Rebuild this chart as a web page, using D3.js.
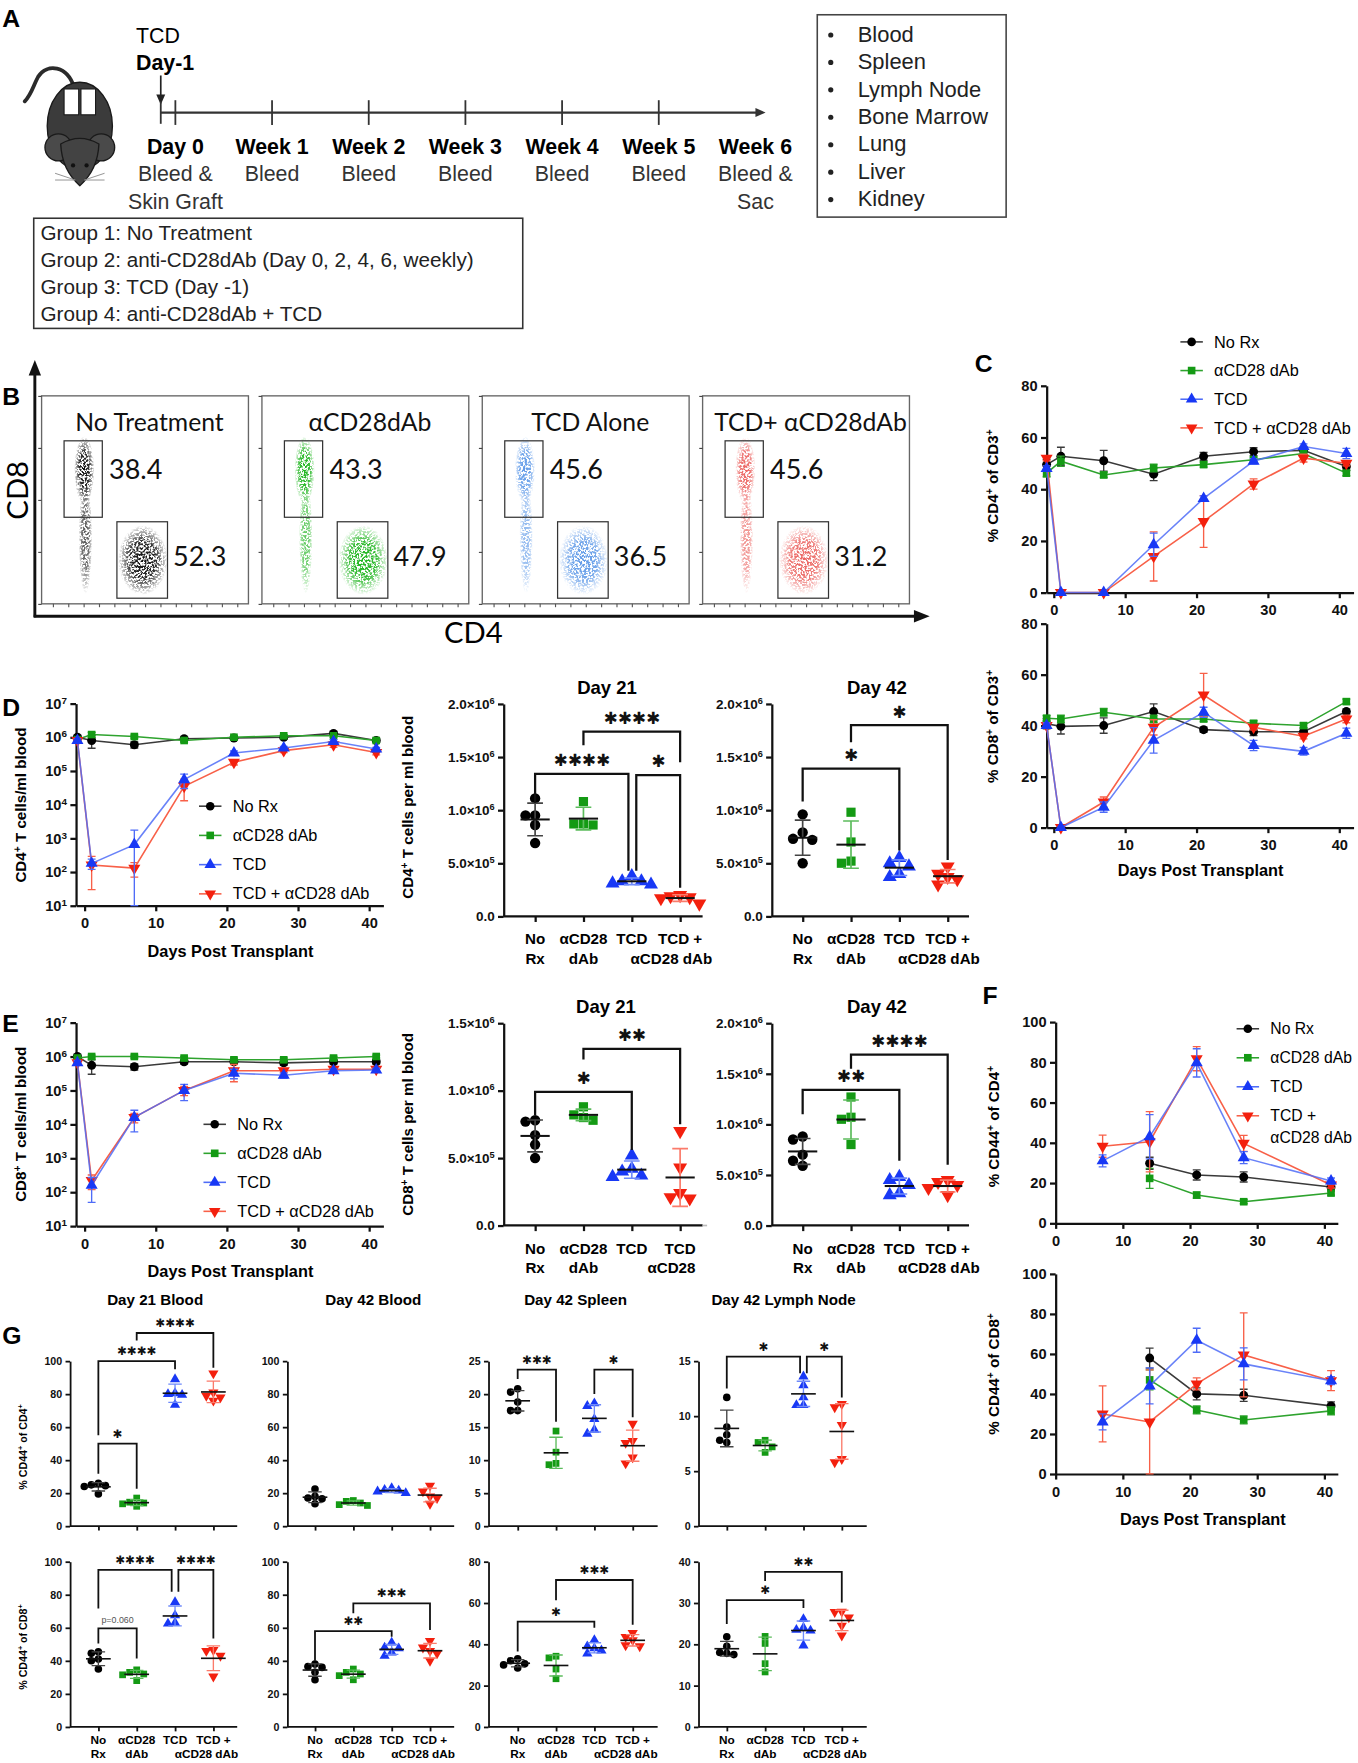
<!DOCTYPE html>
<html>
<head>
<meta charset="utf-8">
<script src="https://cdn.jsdelivr.net/npm/d3@7"></script>
<style>
  body { margin: 0; background: #fff; }
  svg { display: block; }
</style>
</head>
<body>
<div id="chart"></div>
<script>
// ---- data ----
const groups = ["No Rx", "αCD28 dAb", "TCD", "TCD + αCD28 dAb"];
const markFill = ["#000000", "#149a14", "#1838f5", "#f3200e"];
const lineCol = ["#3a3a3a", "#2ea32e", "#4f6cf7", "#f86048"];
const sdCol = ["#444444", "#5cbc5c", "#6f8afa", "#fb7b6b"];

const weekLabels = ["Day 0", "Week 1", "Week 2", "Week 3", "Week 4", "Week 5", "Week 6"];
const weekAction = ["Bleed &", "Bleed", "Bleed", "Bleed", "Bleed", "Bleed", "Bleed &"];
const weekAction2 = ["Skin Graft", "", "", "", "", "", "Sac"];
const groupLines = ["Group 1: No Treatment", "Group 2: anti-CD28dAb (Day 0, 2, 4, 6, weekly)", "Group 3: TCD (Day -1)", "Group 4: anti-CD28dAb + TCD"];
const organs = ["Blood", "Spleen", "Lymph Node", "Bone Marrow", "Lung", "Liver", "Kidney"];

const flowTitles = ["No Treatment", "αCD28dAb", "TCD Alone", "TCD+ αCD28dAb"];
const flowCd8 = [38.4, 43.3, 45.6, 45.6];
const flowCd4 = [52.3, 47.9, 36.5, 31.2];
const flowColors = ["#111111", "#12b012", "#2a78e0", "#e3231f"];

const timeDays = [-1, 1, 7, 14, 21, 28, 35, 41];
const cCd4Vals = [
  [49.5, 52.7, 51, 45.8, 52.7, 54.5, 55, 48.8],
  [46.2, 50.8, 45.5, 48.2, 49.5, 51.4, 53.8, 46.2],
  [48, 0, 0, 18.5, 36.4, 50.8, 56.5, 53.8],
  [52, 0, 0, 14, 27.5, 42, 52, 50]
];
const cCd4Sd = [
  [2, 3.5, 4, 2.5, 1.5, 1.5, 1.5, 1.5],
  [1.5, 2, 1, 1.5, 1, 1, 1, 1],
  [1, 0, 0, 4.5, 1, 1, 1, 2],
  [1, 0, 0, 9.5, 10, 2, 1.5, 1]
];
const cCd8Vals = [
  [40.7, 39.7, 40, 45.5, 38.4, 37.6, 37.6, 45.5],
  [42.9, 42.6, 45.2, 42.6, 42.6, 40.9, 40, 49.4],
  [40, 0, 8, 34.2, 45.2, 32.2, 29.9, 37],
  [40, 0, 10, 39.3, 52, 39.3, 35.8, 42.6]
];
const cCd8Sd = [
  [2, 3, 3, 3, 1, 1.5, 1.5, 1],
  [1, 1.5, 1.5, 1.5, 1, 1, 1, 1],
  [1, 0, 2, 5, 2, 2, 1.5, 2],
  [1, 0, 2, 3, 8.5, 1, 1, 1.5]
];
const dCd4Counts = [
  [1.0e6, 8.0e5, 6.0e5, 9.0e5, 9.5e5, 1.0e6, 1.3e6, 8.0e5],
  [8.5e5, 1.2e6, 1.05e6, 8.0e5, 1.0e6, 1.1e6, 1.1e6, 8.0e5],
  [8.0e5, 1.8e2, 6.5e2, 5.5e4, 3.4e5, 4.8e5, 7.5e5, 4.5e5],
  [8.0e5, 1.6e2, 1.3e2, 3.5e4, 1.8e5, 4.0e5, 6.0e5, 3.5e5]
];
const dCd4Sd = [
  [1.5e5, 3.3e5, 1.2e5, 1.2e5, 1e5, 1e5, 1.5e5, 1e5],
  [1e5, 2e5, 1e5, 1e5, 1e5, 1e5, 1e5, 1e5],
  [1e5, 60, 1.1e3, 2.5e4, 5e4, 5e4, 1e5, 5e4],
  [1e5, 130, 60, 2.2e4, 3e4, 5e4, 1e5, 5e4]
];
const eCd8Counts = [
  [1.0e6, 5.5e5, 5.0e5, 7.0e5, 7.0e5, 6.5e5, 7.0e5, 7.0e5],
  [9.0e5, 1.0e6, 1.0e6, 9.0e5, 8.0e5, 8.0e5, 9.0e5, 1.0e6],
  [6.5e5, 1.6e2, 1.6e4, 1.0e5, 3.2e5, 2.8e5, 3.8e5, 4.0e5],
  [6.5e5, 2.2e2, 1.6e4, 1.0e5, 3.8e5, 3.8e5, 4.2e5, 4.2e5]
];
const eCd8Sd = [
  [1e5, 2.5e5, 1e5, 1e5, 1e5, 1e5, 1e5, 1e5],
  [1e5, 1e5, 1e5, 1e5, 1e5, 1e5, 1e5, 1e5],
  [1e5, 110, 1e4, 5e4, 1e5, 5e4, 5e4, 5e4],
  [1e5, 100, 5e3, 3e4, 2e5, 5e4, 5e4, 5e4]
];
const fDays = [7, 14, 21, 28, 41];
const fCd4Vals = [
  [null, 29.8, 24, 23, 18],
  [null, 22.3, 14, 10.7, 15],
  [31, 43, 79.7, 32.6, 21],
  [38.3, 40.5, 81.8, 39.7, 19]
];
const fCd4Sd = [
  [0, 3, 2.5, 2.5, 1.5],
  [0, 5, 1.5, 1, 1],
  [3, 11, 7, 3, 1.5],
  [5.5, 15, 6, 4, 1.5]
];
const fCd8Vals = [
  [null, 57.9, 40, 39.3, 34],
  [null, 47, 32, 27, 31.5],
  [26, 44, 66.8, 55, 46.6],
  [30, 26, 45, 59.5, 46.6]
];
const fCd8Sd = [
  [0, 5, 3, 3, 2],
  [0, 5, 2, 2, 2],
  [4, 9, 6, 8, 2],
  [14, 26, 3, 21, 5]
];

// per-animal values (x10^6 cells / ml)
const d21Cd4 = [[1.11, 0.95, 0.95, 0.86, 0.69], [1.08, 0.87, 0.87, 0.86], [0.38, 0.33, 0.33, 0.31, 0.30], [0.20, 0.19, 0.18, 0.17, 0.12]];
const d42Cd4 = [[0.96, 0.79, 0.73, 0.72, 0.5], [0.98, 0.7, 0.52, 0.5], [0.55, 0.5, 0.47, 0.4, 0.37], [0.47, 0.4, 0.37, 0.35, 0.3]];
const e21Cd8 = [[0.78, 0.77, 0.67, 0.6, 0.5], [0.88, 0.82, 0.8, 0.78], [0.52, 0.42, 0.4, 0.37, 0.36], [0.7, 0.43, 0.24, 0.21, 0.2]];
const e42Cd8 = [[0.88, 0.85, 0.7, 0.64, 0.59], [1.27, 1.07, 1.05, 0.8], [0.48, 0.45, 0.4, 0.32, 0.3], [0.45, 0.43, 0.4, 0.37, 0.3]];

// % CD44+
const g21BloodCd4 = [[26, 25, 24.5, 24, 19.5], [17, 14.5, 14, 13.5, 12], [89, 80.5, 80, 79.5, 73.5], [92.5, 81, 79, 78, 76]];
const g42BloodCd4 = [[22.5, 18, 17, 16.5, 13.5], [15.5, 15, 14, 13, 12.5], [23, 22, 21.5, 21, 20], [24.5, 21, 18, 17, 13.5]];
const g42SpleenCd4 = [[20.8, 20.3, 18.8, 17.5, 17.5], [14.4, 11.2, 9.5, 9.3], [18.6, 18.2, 16.2, 14.6, 14], [15.5, 12.9, 12.6, 10.4, 9.5]];
const g42LnCd4 = [[11.7, 9.0, 8.3, 7.8, 7.6], [7.8, 7.6, 7.2, 6.7], [13.6, 12.8, 11.7, 11, 11], [11.1, 10.8, 9.2, 6.1, 5.8]];
const g21BloodCd8 = [[45.5, 44.5, 41, 40, 35], [34.5, 33, 32, 31.5, 28], [75.5, 67.5, 63, 62.5], [46.5, 46, 43, 30.5]];
const g42BloodCd8 = [[38, 36.5, 36, 33, 28.5], [35, 33, 32, 31, 28.5], [51, 48, 47.5, 45, 43], [52, 48, 46, 44.5, 40]];
const g42SpleenCd8 = [[33, 32, 30.5, 30, 28.5], [34.2, 33.4, 28, 23.3], [42, 39, 38, 37, 35.5], [45.5, 43.5, 42, 39.5, 39]];
const g42LnCd8 = [[21.8, 19.5, 18, 17.8, 17.5], [21.9, 20.2, 15.3, 13.3], [26.1, 24, 23.5, 23.3, 19.7], [27.9, 27.8, 26.5, 24.5, 22.1]];

// significance brackets: [from, to, bar, leftEnd, rightEnd, label, leftShift, rightShift]
const d21Cd4Sig = [[1, 3, 1.74, 1.61, 1.45, "****"], [0, 2, 1.34, 1.07, 0.43, "****", 0, -3], [2, 3, 1.33, 0.43, 0.27, "*", 4, 0]];
const d42Cd4Sig = [[0, 2, 1.39, 1.08, 0.62, "*"], [1, 3, 1.8, 1.64, 0.53, "*"]];
const e21Cd8Sig = [[1, 3, 1.31, 1.23, 0.75, "**"], [0, 2, 0.99, 0.82, 0.56, "*"]];
const e42Cd8Sig = [[1, 3, 1.69, 1.55, 0.6, "****"], [0, 2, 1.34, 1.1, 0.64, "**"]];
const g21BloodCd4Sig = [[0, 2, 100, 55, 95, "****"], [1, 3, 117, 112.5, 96, "****"], [0, 1, 50, 31.7, 22.6, "*"]];
const g42SpleenCd4Sig = [[0, 1, 23.7, 22.3, 15.8, "***"], [2, 3, 23.7, 20, 16.5, "*"]];
const g42LnCd4Sig = [[0, 2, 15.4, 12.5, 13.9, "*", 0, -3], [2, 3, 15.4, 13.9, 11.7, "*", 3, 0]];
const g21BloodCd8Sig = [[0, 2, 95, 71.7, 81.8, "****", 0, -3], [2, 3, 95, 81.8, 53.5, "****", 3, 0], [0, 1, 59.6, 50.5, 41.4, "p=0.060"]];
const g42BloodCd8Sig = [[0, 2, 58, 40, 54.5, "**"], [1, 3, 74.7, 68.7, 58.6, "***"]];
const g42SpleenCd8Sig = [[0, 2, 51, 36.5, 48, "*"], [1, 3, 71.1, 61.3, 49.4, "***"]];
const g42LnCd8Sig = [[0, 2, 30.7, 24.9, 28.8, "*"], [1, 3, 37.5, 35.3, 30.1, "**"]];

// ---- drawing ----
const SANS = "'Liberation Sans', Arial, Helvetica, sans-serif";
const FLOW = "Lato, 'Open Sans', 'Liberation Sans', sans-serif";
const W = 1208, H = 1568;
const svg = d3.select("#chart").append("svg")
  .attr("width", 1358).attr("height", 1763)
  .attr("viewBox", `0 0 ${W} ${H}`)
  .attr("font-family", SANS);
svg.append("rect").attr("width", W).attr("height", H).attr("fill", "#fff");
const defs = svg.append("defs");

function rich(sel, parts) {
  parts.forEach(p => {
    if (typeof p === "string") sel.append("tspan").text(p);
    else sel.append("tspan").attr("baseline-shift", "super").attr("font-size", "68%").text(p.t);
  });
  return sel;
}
function letter(x, y, t) {
  svg.append("text").attr("x", x).attr("y", y).attr("font-size", 22).attr("font-weight", "bold").text(t);
}
function yTitle(x, y, parts, size) {
  const t = svg.append("text").attr("transform", `translate(${x},${y}) rotate(-90)`)
    .attr("text-anchor", "middle").attr("font-size", size).attr("font-weight", "bold");
  rich(t, parts);
}
const symTypes = [d3.symbolCircle, d3.symbolSquare, d3.symbolTriangle, d3.symbolTriangle];
function marker(g, i, x, y, size, color) {
  g.append("path").attr("d", d3.symbol(symTypes[i], size)())
    .attr("transform", `translate(${x},${y})${i === 3 ? " rotate(180)" : ""}`)
    .attr("fill", color || markFill[i]);
}
function styleAxis(ax, sw, fs) {
  ax.attr("font-family", SANS).attr("font-size", fs).attr("font-weight", "bold");
  ax.selectAll(".domain, .tick line").attr("stroke", "#111").attr("stroke-width", sw);
  ax.selectAll(".tick text").attr("fill", "#111");
}
const sup = t => ({ t });

// ===== Panel A =====
letter(2, 24, "A");
(function mouse() {
  const m = svg.append("g");
  m.append("path").attr("d", "M66,78 C60,58 42,56 34,68 C30,75 28,84 22,90")
    .attr("fill", "none").attr("stroke", "#2b2b2b").attr("stroke-width", 3.4).attr("stroke-linecap", "round");
  m.append("ellipse").attr("cx", 71).attr("cy", 112).attr("rx", 29).attr("ry", 39)
    .attr("fill", "#3b3b3b").attr("stroke", "#1a1a1a").attr("stroke-width", 1.2);
  [[52, 131], [90, 131]].forEach(([x, y]) => m.append("circle").attr("cx", x).attr("cy", y).attr("r", 12)
    .attr("fill", "#4a4a4a").attr("stroke", "#1a1a1a").attr("stroke-width", 1.2));
  m.append("path").attr("d", "M54,128 Q71,118 88,128 Q87,151 71,165 Q55,151 54,128Z")
    .attr("fill", "#434343").attr("stroke", "#1a1a1a").attr("stroke-width", 1.2);
  [[65, 147], [77, 147]].forEach(([x, y]) => m.append("circle").attr("cx", x).attr("cy", y).attr("r", 1.9).attr("fill", "#111"));
  [[-1, 0], [-1, 6], [1, 0], [1, 6]].forEach(([s, d]) => m.append("line")
    .attr("x1", 71 + s * 4).attr("y1", 160).attr("x2", 71 + s * 22).attr("y2", 154 + d)
    .attr("stroke", "#888").attr("stroke-width", 0.8));
  [[57, 79], [72, 79]].forEach(([x, y]) => m.append("rect").attr("x", x).attr("y", y).attr("width", 13).attr("height", 23)
    .attr("fill", "#fff").attr("stroke", "#1a1a1a").attr("stroke-width", 1));
})();
svg.append("text").attr("x", 121).attr("y", 38).attr("font-size", 19).text("TCD");
svg.append("text").attr("x", 121).attr("y", 62).attr("font-size", 19).attr("font-weight", "bold").text("Day-1");
svg.append("line").attr("x1", 143).attr("y1", 67).attr("x2", 143).attr("y2", 86).attr("stroke", "#222").attr("stroke-width", 1.5);
svg.append("path").attr("d", "M139,84 L147,84 L143,93 Z").attr("fill", "#222");
const tlX = d3.scalePoint(weekLabels, [156, 672]);
svg.append("line").attr("x1", 143).attr("y1", 100).attr("x2", 674).attr("y2", 100).attr("stroke", "#333").attr("stroke-width", 2);
svg.append("path").attr("d", "M672,96 L681,100 L672,104 Z").attr("fill", "#333");
svg.append("line").attr("x1", 143).attr("y1", 90).attr("x2", 143).attr("y2", 110).attr("stroke", "#333").attr("stroke-width", 1.6);
weekLabels.slice(0, 6).forEach(w => svg.append("line").attr("x1", tlX(w)).attr("x2", tlX(w)).attr("y1", 89).attr("y2", 111)
  .attr("stroke", "#333").attr("stroke-width", 1.6));
weekLabels.forEach((w, i) => {
  svg.append("text").attr("x", tlX(w)).attr("y", 137).attr("text-anchor", "middle").attr("font-size", 19).attr("font-weight", "bold").text(w);
  svg.append("text").attr("x", tlX(w)).attr("y", 161).attr("text-anchor", "middle").attr("font-size", 19).attr("fill", "#333").text(weekAction[i]);
  if (weekAction2[i]) svg.append("text").attr("x", tlX(w)).attr("y", 186).attr("text-anchor", "middle").attr("font-size", 19).attr("fill", "#333").text(weekAction2[i]);
});
svg.append("rect").attr("x", 30).attr("y", 194).attr("width", 435).attr("height", 98).attr("fill", "none").attr("stroke", "#333").attr("stroke-width", 1.4);
groupLines.forEach((t, i) => svg.append("text").attr("x", 36).attr("y", 213 + i * 24.2).attr("font-size", 18.4).attr("fill", "#222").text(t));
svg.append("rect").attr("x", 727).attr("y", 13).attr("width", 168).attr("height", 180).attr("fill", "none").attr("stroke", "#444").attr("stroke-width", 1.4);
organs.forEach((t, i) => {
  svg.append("circle").attr("cx", 739).attr("cy", 31 + i * 24.4).attr("r", 2.3).attr("fill", "#222");
  svg.append("text").attr("x", 763).attr("y", 37 + i * 24.4).attr("font-size", 19.5).attr("fill", "#222").text(t);
});

// ===== Panel B =====
letter(2, 360, "B");
(function flow() {
  const filt = defs.append("filter").attr("id", "speckle").attr("x", "-30%").attr("y", "-30%").attr("width", "160%").attr("height", "160%");
  filt.append("feTurbulence").attr("type", "fractalNoise").attr("baseFrequency", 0.55).attr("numOctaves", 2).attr("seed", 5).attr("result", "noise");
  filt.append("feColorMatrix").attr("in", "noise").attr("type", "matrix")
    .attr("values", "0 0 0 0 0  0 0 0 0 0  0 0 0 0 0  6 0 0 0 -2.5").attr("result", "mask");
  filt.append("feComposite").attr("in", "SourceGraphic").attr("in2", "mask").attr("operator", "in");
  flowColors.forEach((c, i) => {
    const gr = defs.append("radialGradient").attr("id", "cloud" + i);
    gr.append("stop").attr("offset", "0%").attr("stop-color", c).attr("stop-opacity", 1);
    gr.append("stop").attr("offset", "55%").attr("stop-color", c).attr("stop-opacity", 0.85);
    gr.append("stop").attr("offset", "100%").attr("stop-color", c).attr("stop-opacity", 0);
  });
  const px = d3.scalePoint(d3.range(4), [37, 625]);
  const T = 352, PW = 184, PH = 185;
  const dens = [1, 0.95, 0.75, 0.7];
  flowTitles.forEach((title, i) => {
    const L = px(i);
    const g = svg.append("g");
    g.append("rect").attr("x", L).attr("y", T).attr("width", PW).attr("height", PH).attr("fill", "#fff").attr("stroke", "#666").attr("stroke-width", 1.2);
    const ay = g.append("g").attr("transform", `translate(${L},0)`)
      .call(d3.axisLeft(d3.scaleLinear([0, 4], [T + PH, T])).ticks(4).tickSize(3).tickFormat(""));
    ay.select(".domain").remove();
    ay.selectAll("line").attr("stroke", "#444");
    const ax = g.append("g").attr("transform", `translate(0,${T + PH})`)
      .call(d3.axisBottom(d3.scaleLinear([0, 12], [L + 10, L + PW - 10])).ticks(12).tickSize(3).tickFormat(""));
    ax.select(".domain").remove();
    ax.selectAll("line").attr("stroke", "#555");
    const cl = g.append("g").attr("filter", "url(#speckle)").attr("opacity", dens[i]);
    [[38, 66, 9, 30, 1], [39, 126, 6, 50, 0.7], [90, 146, 22, 31, 1]].forEach(([cx, cy, rx, ry, o]) =>
      cl.append("ellipse").attr("cx", L + cx).attr("cy", T + cy).attr("rx", rx).attr("ry", ry)
        .attr("fill", `url(#cloud${i})`).attr("opacity", o));
    g.append("rect").attr("x", L + 20).attr("y", T + 40).attr("width", 34).attr("height", 68).attr("fill", "none").attr("stroke", "#333").attr("stroke-width", 1.1);
    g.append("rect").attr("x", L + 67).attr("y", T + 112).attr("width", 45).attr("height", 68).attr("fill", "none").attr("stroke", "#333").attr("stroke-width", 1.1);
    g.append("text").attr("x", L + PW / 2 + 4).attr("y", T + 31).attr("text-anchor", "middle").attr("font-family", FLOW).attr("font-size", 22).attr("fill", "#111").text(title);
    g.append("text").attr("x", L + 60).attr("y", T + 74).attr("font-family", FLOW).attr("font-size", 24).attr("fill", "#111").text(flowCd8[i].toFixed(1));
    g.append("text").attr("x", L + 117).attr("y", T + 151).attr("font-family", FLOW).attr("font-size", 24).attr("fill", "#111").text(flowCd4[i].toFixed(1));
  });
  svg.append("line").attr("x1", 31).attr("y1", 549).attr("x2", 31).attr("y2", 332).attr("stroke", "#111").attr("stroke-width", 2.6);
  svg.append("path").attr("d", "M31,320 L25.5,334 L36.5,334 Z").attr("fill", "#111");
  svg.append("line").attr("x1", 30).attr("y1", 548).attr("x2", 814).attr("y2", 548).attr("stroke", "#111").attr("stroke-width", 2.6);
  svg.append("path").attr("d", "M827,548 L813,542.5 L813,553.5 Z").attr("fill", "#111");
  svg.append("text").attr("transform", "translate(25,436) rotate(-90)").attr("text-anchor", "middle").attr("font-family", FLOW).attr("font-size", 26).text("CD8");
  svg.append("text").attr("x", 421).attr("y", 572).attr("text-anchor", "middle").attr("font-family", FLOW).attr("font-size", 26).text("CD4");
})();

// ===== time course helper =====
function timeChart(o) {
  const { x, y } = o;
  const g = svg.append("g");
  const base = y.range()[0];
  const yAx = g.append("g").attr("transform", `translate(${x.range()[0]},0)`)
    .call(d3.axisLeft(y).tickValues(o.yTicks).tickSize(5).tickSizeOuter(0).tickPadding(3).tickFormat(() => ""));
  yAx.selectAll(".tick text").each(function (d) { rich(d3.select(this), o.yFmt(d)); });
  styleAxis(yAx, 2, 13);
  const xAx = g.append("g").attr("transform", `translate(0,${base})`)
    .call(d3.axisBottom(x).tickValues(o.xTicks).tickSize(5).tickSizeOuter(0).tickPadding(6)
      .tickFormat(d3.format("d")));
  styleAxis(xAx, 2, 13);
  const lo = o.log ? 10 : y.domain()[0];
  [0, 1, 3, 2].forEach(i => {
    const pts = o.days.map((d, k) => ({ d, v: o.vals[i][k], s: o.sds[i][k] })).filter(p => p.v != null);
    g.append("path").datum(pts)
      .attr("d", d3.line().x(p => x(p.d)).y(p => y(p.v)))
      .attr("fill", "none").attr("stroke", lineCol[i]).attr("stroke-width", 1.4).attr("stroke-opacity", i === 2 ? 0.85 : 1);
    pts.filter(p => p.s > 0).forEach(p => {
      const y1 = y(p.v + p.s), y0 = y(Math.max(p.v - p.s, lo));
      const xx = x(p.d);
      g.append("path").attr("d", `M${xx - 3.5},${y1}H${xx + 3.5}M${xx},${y1}V${y0}M${xx - 3.5},${y0}H${xx + 3.5}`)
        .attr("fill", "none").attr("stroke", lineCol[i]).attr("stroke-width", 1.2);
    });
    pts.forEach(p => marker(g, i, x(p.d), y(p.v), i === 1 ? 46 : 50));
  });
  if (o.title) svg.append("text").attr("x", o.title[0]).attr("y", o.title[1]).attr("text-anchor", "middle")
    .attr("font-size", 14.5).attr("font-weight", "bold").text("Days Post Transplant");
}
function legend(x, y0, dy, fs, wrapLast) {
  groups.forEach((name, i) => {
    const yy = y0 + i * dy;
    svg.append("line").attr("x1", x - 10).attr("x2", x + 10).attr("y1", yy - 5).attr("y2", yy - 5).attr("stroke", lineCol[i]).attr("stroke-width", 1.4);
    marker(svg, i, x, yy - 5, 46);
    if (wrapLast && i === 3) {
      svg.append("text").attr("x", x + 20).attr("y", yy).attr("font-size", fs).text("TCD +");
      svg.append("text").attr("x", x + 20).attr("y", yy + 19).attr("font-size", fs).text("αCD28 dAb");
    } else svg.append("text").attr("x", x + 20).attr("y", yy).attr("font-size", fs).text(name);
  });
}
const lin = d => [String(d)];
const logFmt = d => ["10", sup(String(Math.round(Math.log10(d))))];

// ===== Panel C =====
letter(867, 331, "C");
const xC = d3.scaleLinear([-1, 42], [931, 1204]);
timeChart({ x: xC, y: d3.scaleLinear([0, 80], [527, 343]), days: timeDays, vals: cCd4Vals, sds: cCd4Sd,
  yTicks: [0, 20, 40, 60, 80], xTicks: [0, 10, 20, 30, 40], yFmt: lin });
timeChart({ x: xC, y: d3.scaleLinear([0, 80], [736, 554.6]), days: timeDays, vals: cCd8Vals, sds: cCd8Sd,
  yTicks: [0, 20, 40, 60, 80], xTicks: [0, 10, 20, 30, 40], yFmt: lin, title: [1068, 779] });
legend(1060, 309, 25.5, 14.5);
yTitle(888, 432, ["% CD4", sup("+"), " of CD3", sup("+")], 13.5);
yTitle(888, 646, ["% CD8", sup("+"), " of CD3", sup("+")], 13.5);

// ===== Panel D / E time courses =====
letter(2, 637, "D");
letter(2, 918, "E");
const xDE = d3.scaleLinear([-1.2, 42], [67.6, 341]);
const logTicks = [1e1, 1e2, 1e3, 1e4, 1e5, 1e6, 1e7];
timeChart({ x: xDE, y: d3.scaleLog([10, 1e7], [805.5, 625.7]), log: true, days: timeDays, vals: dCd4Counts, sds: dCd4Sd,
  yTicks: logTicks, xTicks: [0, 10, 20, 30, 40], yFmt: logFmt, title: [205, 851] });
timeChart({ x: xDE, y: d3.scaleLog([10, 1e7], [1090.5, 909.5]), log: true, days: timeDays, vals: eCd8Counts, sds: eCd8Sd,
  yTicks: logTicks, xTicks: [0, 10, 20, 30, 40], yFmt: logFmt, title: [205, 1136] });
legend(187, 722, 26, 14.5);
legend(191, 1005, 25.8, 14.5);
yTitle(23, 716, ["CD4", sup("+"), " T cells/ml blood"], 13.5);
yTitle(23, 1000, ["CD8", sup("+"), " T cells/ml blood"], 13.5);

// ===== scatter helper =====
function swarm(vals, y, r) {
  const placed = [], off = new Array(vals.length);
  const order = d3.range(vals.length).sort((a, b) => vals[b] - vals[a]);
  order.forEach(i => {
    const py = y(vals[i]);
    for (const c of [0, -1, 1, -2, 2, -3, 3]) {
      const px = c * r * 1.9;
      if (placed.every(p => Math.hypot(p[0] - px, p[1] - py) >= r * 1.85)) { off[i] = px; placed.push([px, py]); break; }
    }
  });
  return off;
}
function scatter(o) {
  const g = svg.append("g");
  const y = o.y, base = y.range()[0];
  const x = d3.scalePoint(groups, [o.cx0, o.cx0 + 3 * o.step]);
  const yAx = g.append("g").attr("transform", `translate(${o.axisX},0)`)
    .call(d3.axisLeft(y).tickValues(o.ticks).tickSize(o.tk).tickSizeOuter(0).tickPadding(3).tickFormat(() => ""));
  yAx.selectAll(".tick text").each(function (d) { rich(d3.select(this), o.fmt(d)); });
  styleAxis(yAx, o.sw, o.fs);
  const xAx = g.append("g").attr("transform", `translate(0,${base})`)
    .call(d3.axisBottom(x).tickSize(o.tk).tickSizeOuter(0).tickFormat(""));
  xAx.select(".domain").attr("d", `M${o.axisX},0H${o.xEnd}`);
  styleAxis(xAx, o.sw, o.fs);
  if (o.xLabels) {
    o.xLabels.forEach((lines, i) => lines.forEach((t, k) => {
      if (!t) return;
      g.append("text").attr("x", x(groups[i]) + (i === 3 && k === 1 ? -o.step * 0.18 : 0))
        .attr("y", base + o.lab[k]).attr("text-anchor", "middle")
        .attr("font-size", o.lfs).attr("font-weight", "bold").text(t);
    }));
  }
  o.data.forEach((vals, i) => {
    const cx = x(groups[i]);
    const off = swarm(vals, y, o.r);
    vals.forEach((v, k) => marker(g, i, cx + off[k], y(v), o.r * o.r * 3.3));
    const m = d3.mean(vals), s = d3.deviation(vals);
    g.append("path").attr("d", `M${cx - o.cap},${y(m + s)}H${cx + o.cap}M${cx},${y(m + s)}V${y(m - s)}M${cx - o.cap},${y(m - s)}H${cx + o.cap}`)
      .attr("fill", "none").attr("stroke", sdCol[i]).attr("stroke-width", o.sw * 0.75);
    g.append("line").attr("x1", cx - o.mean).attr("x2", cx + o.mean).attr("y1", y(m)).attr("y2", y(m))
      .attr("stroke", "#111").attr("stroke-width", o.sw * 0.9);
  });
  (o.sig || []).forEach(([a, b, bar, l, r, lab, sa, sb]) => {
    const x1 = x(groups[a]) + (sa || 0), x2 = x(groups[b]) + (sb || 0);
    g.append("path").attr("d", `M${x1},${y(l)}V${y(bar)}H${x2}V${y(r)}`)
      .attr("fill", "none").attr("stroke", "#111").attr("stroke-width", o.sw);
    if (lab.startsWith("p")) {
      g.append("text").attr("x", (x1 + x2) / 2).attr("y", y(bar) - 5).attr("text-anchor", "middle")
        .attr("font-size", o.starSize * 0.75).attr("fill", "#555").text(lab);
    } else {
      g.append("text").attr("x", (x1 + x2) / 2).attr("y", y(bar) - o.starGap).attr("dy", "0.35em")
        .attr("text-anchor", "middle").attr("font-family", "'DejaVu Sans', sans-serif")
        .attr("font-size", o.starSize).attr("fill", "#111").text(lab.replace(/\*/g, "✱"));
    }
  });
  if (o.title) svg.append("text").attr("x", o.title[0]).attr("y", o.title[1]).attr("text-anchor", "middle")
    .attr("font-size", o.tfs).attr("font-weight", "bold").text(o.title[2]);
}
const sciFmt = d => d === 0 ? ["0.0"] : d >= 1 ? [d.toFixed(1) + "×10", sup("6")] : [(d * 10).toFixed(1) + "×10", sup("5")];
const deLabels = [["No", "Rx"], ["αCD28", "dAb"], ["TCD", ""], ["TCD +", "αCD28 dAb"]];
const e21Labels = [["No", "Rx"], ["αCD28", "dAb"], ["TCD", ""], ["TCD", "αCD28"]];
const big = { step: 43, tk: 5, sw: 2, fs: 12, r: 4.5, cap: 7, mean: 13, starSize: 15, starGap: 12, lab: [25, 42], lfs: 13.5, tfs: 16.5, fmt: sciFmt };

scatter({ ...big, axisX: 448, cx0: 476, xEnd: 625, y: d3.scaleLinear([0, 2], [815, 626]), ticks: [0, 0.5, 1, 1.5, 2],
  data: d21Cd4, sig: d21Cd4Sig, xLabels: deLabels, title: [540, 617, "Day 21"] });
scatter({ ...big, axisX: 686.5, cx0: 714, xEnd: 862, y: d3.scaleLinear([0, 2], [815, 626]), ticks: [0, 0.5, 1, 1.5, 2],
  data: d42Cd4, sig: d42Cd4Sig, xLabels: deLabels, title: [780, 617, "Day 42"] });
scatter({ ...big, axisX: 448, cx0: 476, xEnd: 625, y: d3.scaleLinear([0, 1.5], [1090, 910]), ticks: [0, 0.5, 1, 1.5],
  data: e21Cd8, sig: e21Cd8Sig, xLabels: e21Labels, title: [539, 901, "Day 21"] });
scatter({ ...big, axisX: 686.5, cx0: 714, xEnd: 862, y: d3.scaleLinear([0, 2], [1090, 910]), ticks: [0, 0.5, 1, 1.5, 2],
  data: e42Cd8, sig: e42Cd8Sig, xLabels: deLabels, title: [780, 901, "Day 42"] });
svg.append("line").attr("x1", 625).attr("x2", 629).attr("y1", 1090).attr("y2", 1090).attr("stroke", "#bbb").attr("stroke-width", 1.5);
yTitle(367, 718, ["CD4", sup("+"), " T cells per ml blood"], 13.5);
yTitle(367, 1000, ["CD8", sup("+"), " T cells per ml blood"], 13.5);

// ===== Panel F =====
letter(874, 893, "F");
const xF = d3.scaleLinear([0, 42], [939, 1190]);
timeChart({ x: xF, y: d3.scaleLinear([0, 100], [1088, 909]), days: fDays, vals: fCd4Vals, sds: fCd4Sd,
  yTicks: [0, 20, 40, 60, 80, 100], xTicks: [0, 10, 20, 30, 40], yFmt: lin });
timeChart({ x: xF, y: d3.scaleLinear([0, 100], [1311, 1133]), days: fDays, vals: fCd8Vals, sds: fCd8Sd,
  yTicks: [0, 20, 40, 60, 80, 100], xTicks: [0, 10, 20, 30, 40], yFmt: lin, title: [1070, 1356] });
legend(1110, 920, 25.8, 14, true);
yTitle(889, 1002, ["% CD44", sup("+"), " of CD4", sup("+")], 13.5);
yTitle(889, 1222, ["% CD44", sup("+"), " of CD8", sup("+")], 13.5);

// ===== Panel G =====
letter(2, 1195, "G");
const small = { step: 34.1, tk: 4, sw: 1.6, fs: 9.5, r: 3.3, cap: 6, mean: 11, starSize: 10.5, starGap: 9, lab: [15, 27.5], lfs: 10.5, tfs: 13.5, fmt: lin };
const gCols = [[62.3, 87.5, 211], [255.6, 280.2, 404], [434.5, 460.5, 585], [621.3, 646.5, 771]];
const gTop = [
  [g21BloodCd4, [0, 100], 20, g21BloodCd4Sig, "Day 21 Blood", 138],
  [g42BloodCd4, [0, 100], 20, [], "Day 42 Blood", 332],
  [g42SpleenCd4, [0, 25], 5, g42SpleenCd4Sig, "Day 42 Spleen", 512],
  [g42LnCd4, [0, 15], 5, g42LnCd4Sig, "Day 42 Lymph Node", 697]
];
const gBot = [
  [g21BloodCd8, [0, 100], 20, g21BloodCd8Sig],
  [g42BloodCd8, [0, 100], 20, g42BloodCd8Sig],
  [g42SpleenCd8, [0, 80], 20, g42SpleenCd8Sig],
  [g42LnCd8, [0, 40], 10, g42LnCd8Sig]
];
gTop.forEach(([data, dom, st, sig, title, tx], c) => {
  const [ax, c0, end] = gCols[c];
  scatter({ ...small, axisX: ax, cx0: c0, xEnd: end, y: d3.scaleLinear(dom, [1357.4, 1210.6]), ticks: d3.range(dom[0], dom[1] + 0.01, st),
    data, sig, title: [tx, 1161, title] });
});
gBot.forEach(([data, dom, st, sig], c) => {
  const [ax, c0, end] = gCols[c];
  scatter({ ...small, axisX: ax, cx0: c0, xEnd: end, y: d3.scaleLinear(dom, [1536, 1389]), ticks: d3.range(dom[0], dom[1] + 0.01, st),
    data, sig, xLabels: deLabels });
});
yTitle(24, 1287, ["% CD44", sup("+"), " of CD4", sup("+")], 9.5);
yTitle(24, 1465, ["% CD44", sup("+"), " of CD8", sup("+")], 9.5);
</script>
</body>
</html>
